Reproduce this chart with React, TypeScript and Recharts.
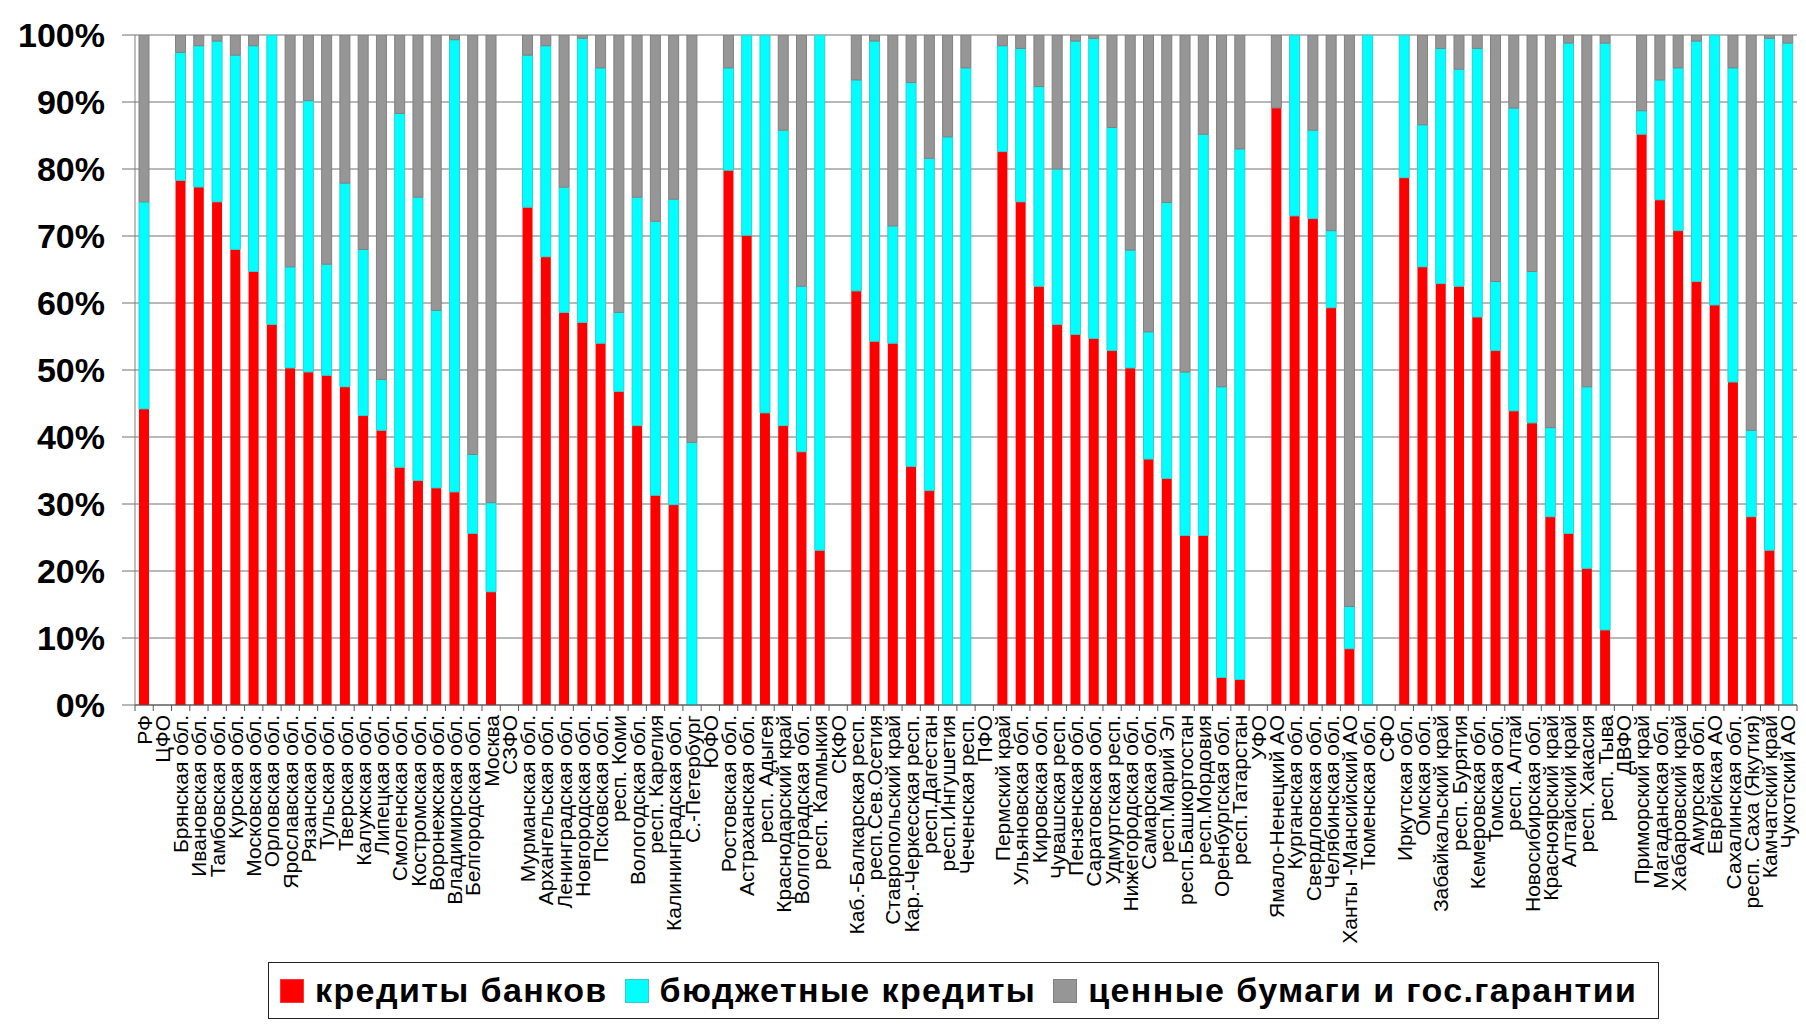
import React from 'react'
import { BarChart, Bar, XAxis, YAxis, CartesianGrid } from 'recharts'

const categories = [
  'РФ', 'ЦФО', 'Брянская обл.', 'Ивановская обл.', 'Тамбовская обл.', 'Курская обл.', 'Московская обл.',
  'Орловская обл.', 'Ярославская обл.', 'Рязанская обл.', 'Тульская обл.', 'Тверская обл.', 'Калужская обл.',
  'Липецкая обл.', 'Смоленская обл.', 'Костромская обл.', 'Воронежская обл.', 'Владимирская обл.',
  'Белгородская обл.', 'Москва', 'СЗФО',
  'Мурманская обл.', 'Архангельская обл.', 'Ленинградская обл.', 'Новгородская обл.', 'Псковская обл.',
  'респ. Коми', 'Вологодская обл.', 'респ. Карелия', 'Калининградская обл.', 'С.-Петербург', 'ЮФО',
  'Ростовская обл.', 'Астраханская обл.', 'респ. Адыгея', 'Краснодарский край', 'Волгоградская обл.',
  'респ. Калмыкия', 'СКФО',
  'Каб.-Балкарская респ.', 'респ.Сев.Осетия', 'Ставропольский край', 'Кар.-Черкесская респ.', 'респ.Дагестан',
  'респ.Ингушетия', 'Чеченская респ.', 'ПФО',
  'Пермский край', 'Ульяновская обл.', 'Кировская обл.', 'Чувашская респ.', 'Пензенская обл.',
  'Саратовская обл.', 'Удмуртская респ.', 'Нижегородская обл.', 'Самарская обл.', 'респ.Марий Эл',
  'респ.Башкортостан', 'респ.Мордовия', 'Оренбургская обл.', 'респ.Татарстан', 'УФО',
  'Ямало-Ненецкий АО', 'Курганская обл.', 'Свердловская обл.', 'Челябинская обл.', 'Ханты -Мансийский АО',
  'Тюменская обл.', 'СФО',
  'Иркутская обл.', 'Омская обл.', 'Забайкальский край', 'респ. Бурятия', 'Кемеровская обл.', 'Томская обл.',
  'респ. Алтай', 'Новосибирская обл.', 'Красноярский край', 'Алтайский край', 'респ. Хакасия', 'респ. Тыва',
  'ДВФО',
  'Приморский край', 'Магаданская обл.', 'Хабаровский край', 'Амурская обл.', 'Еврейская АО',
  'Сахалинская обл.', 'респ. Саха (Якутия)', 'Камчатский край', 'Чукотский АО',
]

// кредиты банков, %
const banks = [
  44.2, 0, 78.3, 77.3, 75.1, 68.0, 64.7, 56.8, 50.3, 49.7, 49.2, 47.5, 43.2, 41.0, 35.5, 33.5, 32.4, 31.8, 25.6, 16.9, 0,
  74.3, 66.9, 58.6, 57.1, 54.0, 46.8, 41.7, 31.3, 29.9, 0, 0,
  79.8, 70.1, 43.6, 41.7, 37.8, 23.1, 0,
  61.8, 54.3, 54.0, 35.6, 32.0, 0, 0, 0,
  82.6, 75.1, 62.5, 56.8, 55.3, 54.7, 52.9, 50.3, 36.7, 33.8, 25.3, 25.3, 4.1, 3.8, 0,
  89.1, 73.0, 72.6, 59.3, 8.4, 0, 0,
  78.7, 65.4, 62.9, 62.5, 57.9, 52.9, 43.9, 42.1, 28.1, 25.6, 20.4, 11.2, 0,
  85.2, 75.4, 70.8, 63.2, 59.7, 48.2, 28.1, 23.1, 0,
]

// бюджетные кредиты, %
const budget = [
  30.9, 0, 19.1, 21.1, 24.0, 29.0, 33.7, 43.2, 15.1, 40.5, 16.6, 30.4, 24.8, 7.6, 52.8, 42.3, 26.5, 67.5, 11.8, 13.3, 0,
  22.7, 31.5, 18.7, 42.4, 41.1, 11.8, 34.1, 40.9, 45.6, 39.2, 0,
  15.3, 29.9, 56.4, 44.1, 24.7, 76.9, 0,
  31.5, 44.8, 17.5, 57.3, 49.6, 84.8, 95.1, 0,
  15.8, 22.9, 29.8, 23.2, 43.8, 44.8, 33.3, 17.6, 19.0, 41.2, 24.4, 59.9, 43.4, 79.2, 0,
  0, 27.0, 13.2, 11.5, 6.3, 100, 0,
  21.3, 21.2, 35.1, 32.4, 40.1, 10.3, 45.2, 22.6, 13.3, 73.2, 27.1, 87.6, 0,
  3.5, 17.9, 24.3, 35.9, 40.3, 46.9, 12.9, 76.4, 98.8,
]

// ценные бумаги и гос.гарантии, %
const securities = [
  24.9, 0, 2.6, 1.6, 0.9, 3.0, 1.6, 0, 34.6, 9.8, 34.2, 22.1, 32.0, 51.4, 11.7, 24.2, 41.1, 0.7, 62.6, 69.8, 0,
  3.0, 1.6, 22.7, 0.5, 4.9, 41.4, 24.2, 27.8, 24.5, 60.8, 0,
  4.9, 0, 0, 14.2, 37.5, 0, 0,
  6.7, 0.9, 28.5, 7.1, 18.4, 15.2, 4.9, 0,
  1.6, 2.0, 7.7, 20.0, 0.9, 0.5, 13.8, 32.1, 44.3, 25.0, 50.3, 14.8, 52.5, 17.0, 0,
  10.9, 0, 14.2, 29.2, 85.3, 0, 0,
  0, 13.4, 2.0, 5.1, 2.0, 36.8, 10.9, 35.3, 58.6, 1.2, 52.5, 1.2, 0,
  11.3, 6.7, 4.9, 0.9, 0, 4.9, 59.0, 0.5, 1.2,
]

const yTicks = [0, 10, 20, 30, 40, 50, 60, 70, 80, 90, 100]

const seriesNames = ['кредиты банков', 'бюджетные кредиты', 'ценные бумаги и гос.гарантии']
const seriesColors = ['#ff0000', '#00ffff', '#969696']
const seriesBorders = ['#ff3333', '#33cccc', '#808080']

const data = categories.map((name, i) => ({
  name,
  banks: banks[i],
  budget: budget[i],
  securities: securities[i],
}))

const W = 1806
const H = 1024
const PLOT_LEFT = 135
const PLOT_RIGHT = 1797
const STEP = (PLOT_RIGHT - PLOT_LEFT) / categories.length
const FONT = '"Liberation Sans", Arial, sans-serif'

function CategoryTick(props: any) {
  const { x, y, payload, index } = props
  const left = x - STEP / 2
  return (
    <g>
      <line x1={left} y1={y} x2={left} y2={y + 6} stroke="#555" />
      {index === categories.length - 1 && (
        <line x1={x + STEP / 2} y1={y} x2={x + STEP / 2} y2={y + 6} stroke="#555" />
      )}
      <text
        transform={`translate(${x + 7.5}, ${y + 10}) rotate(-90)`}
        textAnchor="end"
        fontSize={21}
        fontFamily={FONT}
        fill="#000"
      >
        {payload.value}
      </text>
    </g>
  )
}

function LegendBox() {
  return (
    <div
      style={{
        position: 'absolute',
        left: 268,
        top: 962,
        width: 1391,
        height: 57,
        boxSizing: 'border-box',
        border: '1.5px solid #222',
        display: 'flex',
        alignItems: 'center',
        paddingLeft: 11,
        fontFamily: FONT,
        fontSize: 34,
        fontWeight: 'bold',
        letterSpacing: 1.4,
        color: '#000',
        background: '#fff',
        whiteSpace: 'nowrap',
        overflow: 'visible',
      }}
    >
      {seriesNames.map((n, i) => (
        <div key={n} style={{ display: 'flex', alignItems: 'center', marginRight: 17, flexShrink: 0 }}>
          <span
            style={{
              display: 'inline-block',
              width: 24,
              height: 24,
              background: seriesColors[i],
              border: `1px solid ${seriesBorders[i]}`,
              boxSizing: 'border-box',
              marginRight: 11,
              flexShrink: 0,
            }}
          />
          <span>{n}</span>
        </div>
      ))}
    </div>
  )
}

export default function App() {
  return (
    <div style={{ position: 'relative', width: W, height: H, background: '#fff' }}>
      <style>{'body{margin:0}'}</style>
      <BarChart
        width={W}
        height={H}
        data={data}
        margin={{ top: 35, right: W - PLOT_RIGHT, left: 0, bottom: 0 }}
        barSize={10}
      >
        <CartesianGrid vertical={false} stroke="#707070" strokeWidth={1} />
        <XAxis
          dataKey="name"
          interval={0}
          height={H - 35 - 670}
          tickSize={0}
          tickMargin={0}
          tickLine={false}
          axisLine={{ stroke: '#555' }}
          tick={<CategoryTick />}
        />
        <YAxis
          width={PLOT_LEFT}
          domain={[0, 100]}
          ticks={yTicks}
          tickFormatter={(v: number) => `${v}%`}
          tickSize={13}
          tickMargin={17}
          axisLine={{ stroke: '#808080' }}
          tickLine={{ stroke: '#707070' }}
          tick={{ fontSize: 34, fontWeight: 'bold', fill: '#000', fontFamily: FONT }}
          allowDataOverflow
        />
        <Bar dataKey="banks" stackId="s" fill={seriesColors[0]} isAnimationActive={false} />
        <Bar dataKey="budget" stackId="s" fill={seriesColors[1]} stroke={seriesBorders[1]} strokeWidth={1} isAnimationActive={false} />
        <Bar dataKey="securities" stackId="s" fill={seriesColors[2]} stroke={seriesBorders[2]} strokeWidth={1} isAnimationActive={false} />
      </BarChart>
      <LegendBox />
    </div>
  )
}
